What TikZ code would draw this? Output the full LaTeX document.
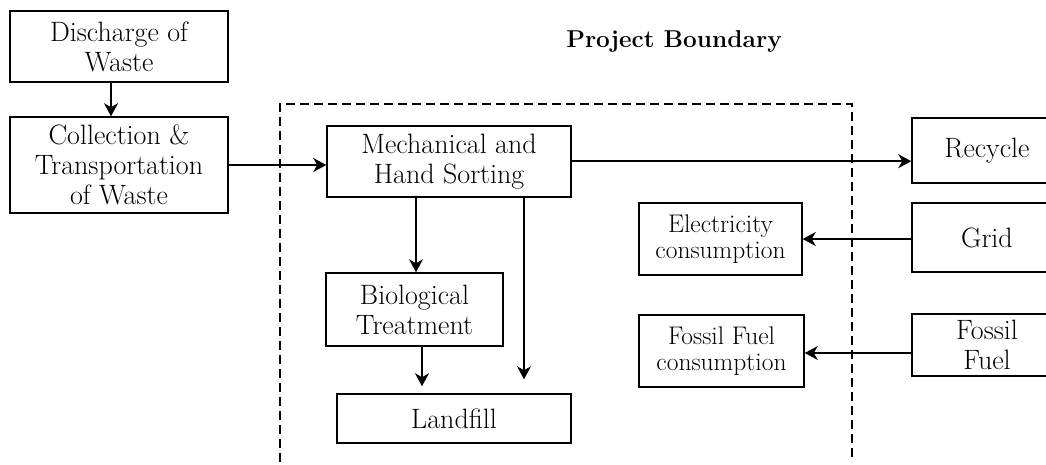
\documentclass[tikz,border=0pt]{standalone}
\usetikzlibrary{arrows.meta}
\begin{document}
\begin{tikzpicture}[x=1pt,y=-1pt,
  box/.style={draw,line width=1.5pt,align=center,inner sep=0pt,font=\fontsize{28}{30}\selectfont},
  sbox/.style={box,font=\fontsize{25.5}{26}\selectfont},
  arr/.style={line width=1.5pt,-{Stealth[length=13pt,width=14pt,inset=4pt]}},
  bound/.style={line width=1.4pt,dash pattern=on 9pt off 5pt}]
\useasboundingbox (0,0) rectangle (1046,464);
% boundary
\draw[bound] (280,462) -- (280,104) -- (852,104) -- (852,462);
\node[font=\fontsize{24.4}{28}\selectfont\bfseries] (title) at (674,41) {Project Boundary};
% nodes
\node[box,minimum width=218pt,minimum height=71pt] (disch) at (119,46.5) {Discharge of\\Waste};
\node[box,minimum width=218pt,minimum height=96pt] (collect) at (119,165) {Collection \&\\Transportation\\of Waste};
\node[box,minimum width=244pt,minimum height=71pt] (mech) at (449,161.5) {Mechanical and\\Hand Sorting};
\node[box,minimum width=177pt,minimum height=73pt] (bio) at (414.5,309.5) {Biological\\Treatment};
\node[box,minimum width=234pt,minimum height=49pt] (land) at (454,418.5) {Landfill};
\node[box,minimum width=150pt,minimum height=65pt] (rec) at (987,150.5) {Recycle};
\node[box,minimum width=150pt,minimum height=69pt] (grid) at (987,237.5) {Grid};
\node[box,minimum width=150pt,minimum height=62pt] (fossil) at (987,345) {Fossil\\Fuel};
\node[sbox,minimum width=163pt,minimum height=72pt] (elec) at (720.5,239) {Electricity\\consumption};
\node[sbox,minimum width=165pt,minimum height=72pt] (ffc) at (721.5,351) {Fossil Fuel\\consumption};
% connectors
\draw[arr] ([xshift=-8pt]disch.south) -- ([xshift=-8pt]collect.north);
\draw[arr] (collect.east) -- (mech.west |- collect.east);
\draw[arr] ([yshift=0.3pt]mech.east) -- ([yshift=0.3pt]rec.west |- mech.east);
\draw[arr] ([xshift=1.5pt]bio.north |- mech.south) -- ([xshift=1.5pt]bio.north);
\draw[arr,shorten >=7pt] ([xshift=7.5pt]bio.south) -- ([xshift=7.5pt]bio.south |- land.north);
\draw[arr,shorten >=14pt] ([xshift=75pt]mech.south) -- ([xshift=75pt]mech.south |- land.north);
\draw[arr] (elec.east -| grid.west) -- (elec.east);
\draw[arr] ([yshift=-2pt]ffc.east -| fossil.west) -- ([yshift=-2pt]ffc.east);
\end{tikzpicture}
\end{document}
